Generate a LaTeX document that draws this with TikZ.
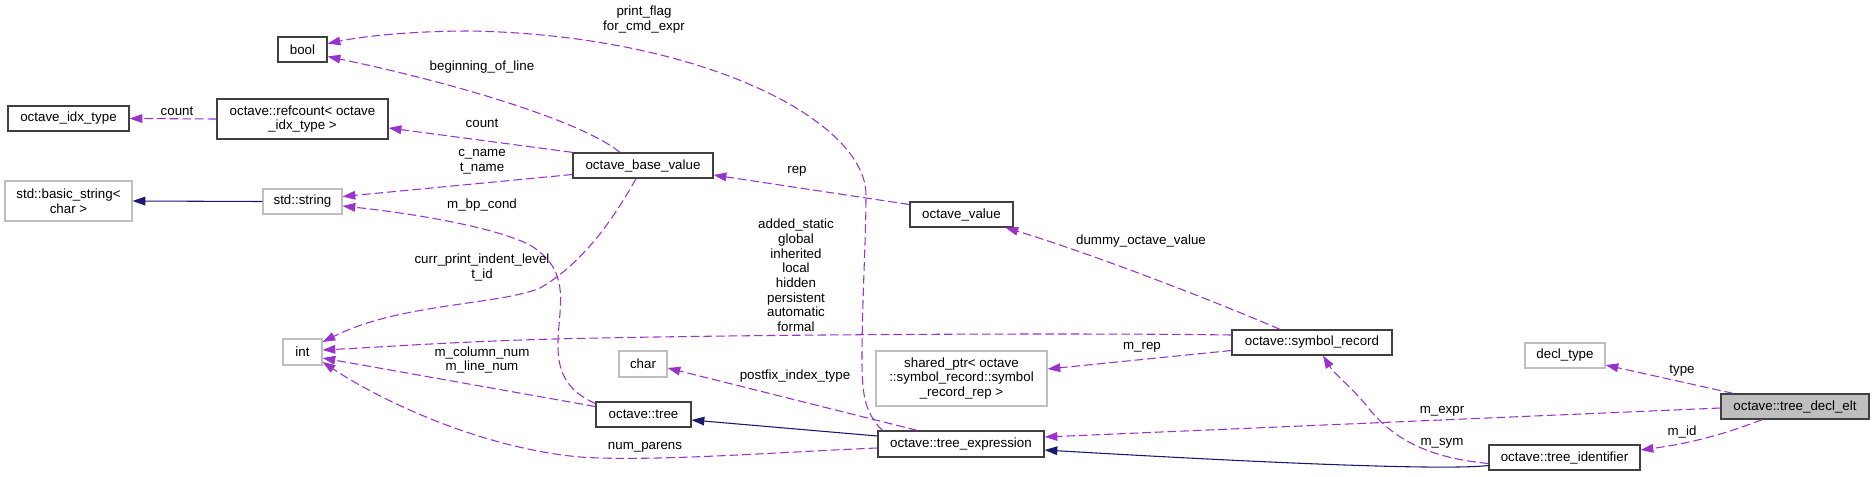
\documentclass[tikz,border=0pt]{standalone}
\usepackage{fontspec}
\setmainfont{Liberation Sans}
\usetikzlibrary{arrows.meta,calc}
\definecolor{depcol}{HTML}{9A32CD}
\definecolor{inhcol}{HTML}{191970}
\definecolor{gbord}{HTML}{BFBFBF}
\definecolor{dbord}{HTML}{404040}
\begin{document}
\begin{tikzpicture}[x=0.75pt,y=-0.75pt,
  font=\fontsize{10pt}{11pt}\selectfont,
  cls/.style 2 args={draw=dbord, line width=1pt, inner sep=0pt, minimum width={#1*0.75pt}, minimum height={#2*0.75pt}, align=center},
  ext/.style 2 args={draw=gbord, line width=0.9pt, inner sep=0pt, minimum width={#1*0.75pt}, minimum height={#2*0.75pt}, align=center},
  depedge/.style={depcol, line width=0.8pt, dash pattern=on 6.5pt off 3pt, -{Triangle[length=9.5pt,width=6.5pt]}},
  inhedge/.style={inhcol, line width=0.8pt, -{Triangle[length=9.5pt,width=6.5pt]}},
  lbl/.style={inner sep=0pt, align=center, text=black}]
\useasboundingbox (0,0) rectangle (1875,476);
\fill[white] (0,0) rectangle (1875,476);

% classes
\node[cls={49}{25}] (bool) at (302.5,49.5) {bool};
\node[cls={121}{25}] (idx) at (68.5,118.5) {octave\_idx\_type};
\node[cls={171}{40}] (refc) at (302.5,119) {octave::refcount< octave\\\_idx\_type >};
\node[ext={127}{40}] (bstr) at (68.5,201) {std::basic\_string<\\char >};
\node[ext={79}{25}] (sstr) at (302.5,201.5) {std::string};
\node[ext={39}{26}] (int) at (302.5,352) {int};
\node[cls={140}{25}] (obv) at (643,165.5) {octave\_base\_value};
\node[cls={103}{25}] (oval) at (961.5,214.5) {octave\_value};
\node[ext={48}{26}] (chr) at (643,364) {char};
\node[cls={95}{25}] (tree) at (643.5,414.5) {octave::tree};
\node[ext={171}{55}] (sptr) at (961.5,378.5) {shared\_ptr< octave\\::symbol\_record::symbol\\\_record\_rep >};
\node[cls={166}{26}] (texpr) at (961,444) {octave::tree\_expression};
\node[cls={160}{25}] (symr) at (1312,342.5) {octave::symbol\_record};
\node[ext={80}{25}] (decl) at (1565,355.5) {decl\_type};
\node[cls={148}{25}, fill=gbord] (delt) at (1795,406.5) {octave::tree\_decl\_elt};
\node[cls={151}{25}] (tid) at (1564.5,457.5) {octave::tree\_identifier};

% connectors
\draw[depedge] ($(obv.north)+(-23,0)$) .. controls (580,120) and (450,82) .. ($(bool.east)+(0,7)$);
\draw[depedge] ($(texpr.north west)+(5,0)$) .. controls (864,412) and (862,392) .. (862,360) .. controls (862,300) and (866,240) .. (866,195) .. controls (866,120) and (700,35) .. (470,31) .. controls (420,31) and (370,35) .. ($(bool.east)+(0,-6)$);
\draw[depedge] (refc.west) -- (idx.east);
\draw[depedge] (obv.north west) -- ($(refc.east)+(0,9)$);
\draw[depedge] ($(obv.west)+(0,9)$) -- ($(sstr.east)+(0,-5)$);
\draw[depedge] ($(tree.west)+(0,-11)$) .. controls (565,390) and (557,370) .. (558,340) .. controls (560,300) and (570,270) .. (530,245) .. controls (490,225) and (400,212) .. ($(sstr.east)+(0,4.5)$);
\draw[depedge] ($(obv.south)+(-7,0)$) .. controls (610,225) and (580,265) .. (540,288) .. controls (500,305) and (400,303) .. ($(int.east)+(0,-10)$);
\draw[depedge] ($(symr.west)+(0,-7.5)$) .. controls (1100,333) and (800,334) .. (600,338) .. controls (480,340) and (400,346) .. ($(int.east)+(0,-2)$);
\draw[depedge] ($(tree.west)+(0,-8)$) -- ($(int.east)+(0,6)$);
\draw[depedge] ($(texpr.west)+(0,4)$) .. controls (780,452) and (650,462) .. (580,457) .. controls (480,448) and (380,400) .. ($(int.east)+(0,10)$);
\draw[depedge] ($(oval.west)+(0,-10)$) -- ($(obv.east)+(0,9.5)$);
\draw[depedge] ($(symr.north)+(-32,0)$) .. controls (1200,295) and (1080,250) .. ($(oval.south)+(44,0)$);
\draw[depedge] ($(symr.west)+(0,8)$) -- ($(sptr.east)+(0,-9.5)$);
\draw[depedge] ($(texpr.north)+(-44,0)$) -- ($(chr.east)+(0,4)$);
\draw[inhedge] ($(texpr.west)+(0,-8)$) -- ($(tree.east)+(0,5.5)$);
\draw[inhedge] ($(tid.west)+(0,8)$) .. controls (1450,470) and (1300,465) .. ($(texpr.east)+(0,6)$);
\draw[depedge] ($(tid.west)+(0,6)$) .. controls (1430,458) and (1395,440) .. (1370,410) .. controls (1355,390) and (1335,375) .. ($(symr.south)+(11,0)$);
\draw[depedge] ($(delt.west)+(0,1.5)$) -- ($(texpr.east)+(0,-7)$);
\draw[depedge] ($(delt.north)+(-62,0)$) -- ($(decl.east)+(0,9.5)$);
\draw[depedge] ($(delt.south)+(-33,0)$) .. controls (1735,430) and (1700,442) .. ($(tid.east)+(0,-7.5)$);
\draw[inhedge] (sstr.west) -- (bstr.east);

% labels
\node[lbl] (l1) at (644,19.5) {print\_flag\\for\_cmd\_expr};
\node[lbl] (l2) at (482,67) {beginning\_of\_line};
\node[lbl] (l3) at (177,111) {count};
\node[lbl] (l4) at (482,123) {count};
\node[lbl] (l5) at (482,162) {c\_name\\t\_name};
\node[lbl] (l6) at (482,205) {m\_bp\_cond};
\node[lbl] (l7) at (482,267.5) {curr\_print\_indent\_level\\t\_id};
\node[lbl] (l8) at (482,360) {m\_column\_num\\m\_line\_num};
\node[lbl] (l9) at (645,447) {num\_parens};
\node[lbl] (l10) at (797,171) {rep};
\node[lbl] (l11) at (796,275.5) {added\_static\\global\\inherited\\local\\hidden\\persistent\\automatic\\formal};
\node[lbl] (l12) at (795,376) {postfix\_index\_type};
\node[lbl] (l13) at (1141,241) {dummy\_octave\_value};
\node[lbl] (l14) at (1142,347) {m\_rep};
\node[lbl] (l15) at (1442,411) {m\_expr};
\node[lbl] (l16) at (1442,443) {m\_sym};
\node[lbl] (l17) at (1682,371) {type};
\node[lbl] (l18) at (1682,432) {m\_id};
\end{tikzpicture}
\end{document}
